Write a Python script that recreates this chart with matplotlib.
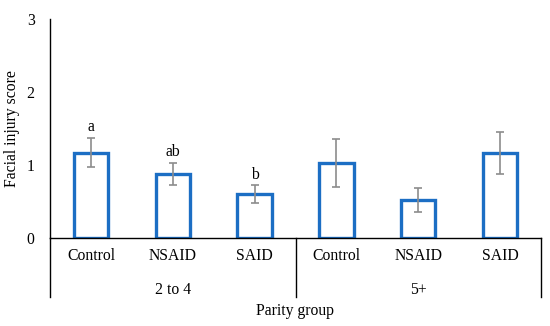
import matplotlib
matplotlib.use("Agg")
import matplotlib.pyplot as plt
import numpy as np

groups = ["2 to 4", "5+"]
categories = ["Control", "NSAID", "SAID", "Control", "NSAID", "SAID"]
values = [1.17, 0.88, 0.60, 1.03, 0.52, 1.16]
errors = [0.20, 0.15, 0.12, 0.33, 0.17, 0.29]
letters = ["a", "ab", "b", "", "", ""]
yticks = [0, 1, 2, 3]

plt.rcParams['font.family'] = ['Liberation Serif', 'DejaVu Serif']
fs = 11.3

fig = plt.figure(figsize=(5.5, 3.26), dpi=100)
ax = fig.add_axes([50/550, (326-238)/326, (541-50)/550, (238-19)/326])

x = np.arange(len(categories))
ax.bar(x, values, width=0.42, facecolor='white', edgecolor='#1C6EC4', linewidth=2.4, zorder=2)
ax.errorbar(x, values, yerr=errors, fmt='none', ecolor='#8C8C8C', elinewidth=1.2,
            capsize=3, capthick=1.2, zorder=3)
for xi, v, e, t in zip(x, values, errors, letters):
    if t:
        ax.text(xi, v + e + 0.04, t, ha='center', va='bottom', fontsize=fs)

ax.set_xlim(-0.5, len(categories) - 0.5)
ax.set_ylim(0, 3)
ax.set_yticks(yticks)
ax.set_yticklabels([str(t) for t in yticks], fontsize=fs)
ax.tick_params(axis='y', length=0, pad=11)
ax.set_xticks(x)
ax.set_xticklabels(categories, fontsize=fs)
ax.tick_params(axis='x', length=0, pad=7)
for s in ['top', 'right']:
    ax.spines[s].set_visible(False)
ax.spines['left'].set_linewidth(1.0)
ax.spines['bottom'].set_linewidth(1.0)
ax.set_ylabel("Facial injury score", fontsize=fs, labelpad=5)

# group separators and labels
trans = ax.get_xaxis_transform()
ybot = -(297-238)/219
for xs in [-0.5, 2.5, 5.5]:
    ax.plot([xs, xs], [0, ybot], transform=trans, color='black', lw=1.0, clip_on=False)
for gi, g in enumerate(groups):
    ax.text(1 + 3*gi, -(290-238)/219, g, transform=trans, ha='center', va='center', fontsize=fs)
ax.text(2.5, -(311-238)/219, "Parity group", transform=trans, ha='center', va='center', fontsize=fs)

fig.savefig("out.png", dpi=100)
